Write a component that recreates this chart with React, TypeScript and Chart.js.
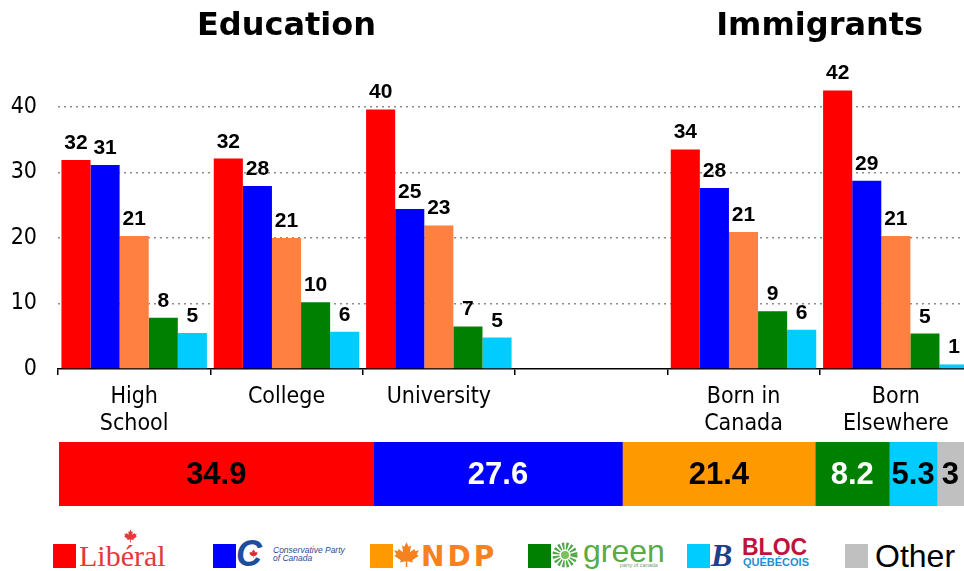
import React, { useEffect, useRef } from 'react';
import { Chart, registerables } from 'chart.js';

Chart.register(...registerables);

// ---------- data ----------
const categories: (string | string[])[] = [['High', 'School'], 'College', 'University', '', ['Born in', 'Canada'], ['Born', 'Elsewhere']];
const groupTitles = ['Education', 'Immigrants'];

const liberalValues = [31.9, 32.1, 39.6, null, 33.5, 42.5];
const conservativeValues = [31.1, 27.9, 24.4, null, 27.6, 28.7];
const ndpValues = [20.3, 20.0, 21.9, null, 20.9, 20.3];
const greenValues = [7.8, 10.2, 6.5, null, 8.8, 5.4];
const blocValues = [5.5, 5.7, 4.8, null, 6.0, 0.7];

const liberalLabels = ['32', '32', '40', '', '34', '42'];
const conservativeLabels = ['31', '28', '25', '', '28', '29'];
const ndpLabels = ['21', '21', '23', '', '21', '21'];
const greenLabels = ['8', '10', '7', '', '9', '5'];
const blocLabels = ['5', '6', '5', '', '6', '1'];

const yTickValues = [0, 10, 20, 30, 40];

const overallParties = ['Liberal', 'Conservative', 'NDP', 'Green', 'Bloc', 'Other'];
const overallValues = [34.9, 27.6, 21.4, 8.2, 5.3, 3];
const overallLabels = ['34.9', '27.6', '21.4', '8.2', '5.3', '3'];

// ---------- styles ----------
const AXIS_FONT = '"DejaVu Sans Condensed", "DejaVu Sans", sans-serif';
const ARIAL = '"Liberation Sans", Arial, sans-serif';

const barColors = ['#FF0000', '#0000FF', '#FF8040', '#008000', '#00CCFF'];
const overallColors = ['#FF0000', '#0000FF', '#FF9900', '#008000', '#00CCFF', '#C0C0C0'];
const overallTextColors = ['#000000', '#FFFFFF', '#000000', '#FFFFFF', '#000000', '#000000'];

const barLabelPlugin = {
  id: 'barLabels',
  afterDatasetsDraw(chart: any) {
    const ctx = chart.ctx;
    ctx.save();
    ctx.font = `bold 21px ${ARIAL}`;
    ctx.fillStyle = '#000';
    ctx.textAlign = 'center';
    ctx.textBaseline = 'alphabetic';
    chart.data.datasets.forEach((ds: any, i: number) => {
      const meta = chart.getDatasetMeta(i);
      meta.data.forEach((el: any, j: number) => {
        const t = ds.valueLabels[j];
        if (!t) return;
        ctx.fillText(t, el.x, el.y - 11);
      });
    });
    ctx.restore();
  },
};

const titlePlugin = {
  id: 'groupTitles',
  afterDraw(chart: any) {
    const ctx = chart.ctx;
    const x = chart.scales.x;
    ctx.save();
    ctx.font = `bold 32px "DejaVu Sans", sans-serif`;
    ctx.fillStyle = '#000';
    ctx.textAlign = 'center';
    ctx.textBaseline = 'alphabetic';
    ctx.fillText(groupTitles[0], x.getPixelForValue(1), 35);
    ctx.fillText(groupTitles[1], (x.getPixelForValue(4) + x.getPixelForValue(5)) / 2, 35);
    ctx.restore();
  },
};

const stackLabelPlugin = {
  id: 'stackLabels',
  afterDatasetsDraw(chart: any) {
    const ctx = chart.ctx;
    ctx.save();
    ctx.font = `bold 31px ${ARIAL}`;
    ctx.textAlign = 'center';
    ctx.textBaseline = 'middle';
    chart.data.datasets.forEach((ds: any, i: number) => {
      const meta = chart.getDatasetMeta(i);
      meta.data.forEach((el: any) => {
        const c = el.getCenterPoint();
        ctx.fillStyle = overallTextColors[i];
        ctx.fillText(overallLabels[i], c.x, c.y + 1);
      });
    });
    ctx.restore();
  },
};

function T(props: { x: number; base: number; size: number; style?: any; children: any }) {
  const { x, base, size, style, children } = props;
  return (
    <div
      style={{
        position: 'absolute',
        left: x,
        top: base - 0.84 * size,
        fontSize: size,
        lineHeight: 1,
        whiteSpace: 'nowrap',
        ...style,
      }}
    >
      {children}
    </div>
  );
}

function Leaf(props: { x: number; y: number; w: number; h: number; color: string }) {
  const { x, y, w, h, color } = props;
  return (
    <svg style={{ position: 'absolute', left: x, top: y }} width={w} height={h} viewBox="0 0 24 24">
      <polygon
        fill={color}
        points="12,1 14,5 16,4 15,10 19,7 20,9 23,8 21,12 23,13 17,17 18,19 12.7,18 12.7,23 11.3,23 11.3,18 6,19 7,17 1,13 3,12 1,8 4,9 5,7 9,10 8,4 10,5"
      />
    </svg>
  );
}

function Square(props: { x: number; color: string }) {
  return <div style={{ position: 'absolute', left: props.x, top: 544, width: 23, height: 24, background: props.color }} />;
}

export default function App() {
  const mainRef = useRef<HTMLCanvasElement>(null);
  const stackRef = useRef<HTMLCanvasElement>(null);

  useEffect(() => {
    const seriesValues = [liberalValues, conservativeValues, ndpValues, greenValues, blocValues];
    const seriesLabels = [liberalLabels, conservativeLabels, ndpLabels, greenLabels, blocLabels];
    const seriesNames = ['Liberal', 'Conservative', 'NDP', 'Green', 'Bloc'];

    const main = new Chart(mainRef.current!, {
      type: 'bar',
      data: {
        labels: categories as any,
        datasets: seriesValues.map((v, i) => ({
          label: seriesNames[i],
          data: v as any,
          backgroundColor: barColors[i],
          borderWidth: 0,
          barPercentage: 1,
          categoryPercentage: 0.955,
          valueLabels: seriesLabels[i],
        })) as any,
      },
      options: {
        responsive: false,
        animation: false,
        maintainAspectRatio: false,
        layout: { padding: { top: 74, right: 8, left: 0, bottom: 0 } },
        plugins: { legend: { display: false }, tooltip: { enabled: false }, title: { display: false } },
        scales: {
          x: {
            grid: { display: true, offset: true, drawOnChartArea: false, drawTicks: true, tickLength: 6, color: '#000', lineWidth: 1.5 },
            border: { display: true, color: '#000', width: 1.5 },
            ticks: { color: '#000', font: { family: AXIS_FONT, size: 23, lineHeight: 1.2 }, padding: 8, maxRotation: 0, autoSkip: false },
            afterFit: (s: any) => {
              s.height = 72;
            },
          },
          y: {
            min: 0,
            max: 45,
            afterBuildTicks: (s: any) => {
              s.ticks = yTickValues.map((v) => ({ value: v }));
            },
            grid: {
              drawTicks: false,
              lineWidth: 1.5,
              color: (c: any) => (c.tick && c.tick.value === 0 ? 'rgba(0,0,0,0)' : '#8C8C8C'),
            },
            border: { display: false, dash: [2, 4] },
            ticks: { color: '#000', font: { family: AXIS_FONT, size: 23 }, padding: 21 },
            afterFit: (s: any) => {
              s.width = 58;
            },
          },
        },
      } as any,
      plugins: [barLabelPlugin, titlePlugin],
    });

    const stack = new Chart(stackRef.current!, {
      type: 'bar',
      data: {
        labels: ['Overall'],
        datasets: overallParties.map((p, i) => ({
          label: p,
          data: [overallValues[i]],
          backgroundColor: overallColors[i],
          borderWidth: 0,
          barPercentage: 1,
          categoryPercentage: 1,
        })),
      },
      options: {
        responsive: false,
        animation: false,
        indexAxis: 'y',
        layout: { padding: { left: 59, right: 0, top: 0, bottom: 0 } },
        plugins: { legend: { display: false }, tooltip: { enabled: false } },
        scales: {
          x: { stacked: true, min: 0, max: 100.4, display: false },
          y: { stacked: true, display: false },
        },
      } as any,
      plugins: [stackLabelPlugin],
    });

    return () => {
      main.destroy();
      stack.destroy();
    };
  }, []);

  return (
    <div
      style={{
        position: 'absolute',
        left: 0,
        top: 0,
        width: 964,
        height: 571,
        overflow: 'hidden',
        background: '#fff',
        fontFamily: ARIAL,
      }}
    >
      <canvas ref={mainRef} width={980} height={441} style={{ position: 'absolute', left: 0, top: 0, width: 980, height: 441 }} />
      <canvas ref={stackRef} width={964} height={64} style={{ position: 'absolute', left: 0, top: 442, width: 964, height: 64 }} />

      {/* Legend */}
      <Square x={53} color="#FF0000" />
      <T x={79} base={566} size={30} style={{ fontFamily: '"Liberation Serif", serif', color: '#E23A3A' }}>
        Libéral
      </T>
      <Leaf x={123} y={529} w={15} h={14} color="#E23A3A" />

      <Square x={213} color="#0000FF" />
      <T x={236} base={566} size={36} style={{ fontFamily: ARIAL, fontWeight: 'bold', fontStyle: 'italic', color: '#1D4E9E' }}>
        C
      </T>
      <Leaf x={249} y={549} w={9} h={9} color="#E0262E" />
      <T x={273} base={553} size={8.5} style={{ fontStyle: 'italic', color: '#2A4C8F' }}>
        Conservative Party
      </T>
      <T x={273} base={561} size={8.5} style={{ fontStyle: 'italic', color: '#2A4C8F' }}>
        of Canada
      </T>

      <Square x={370} color="#FF9900" />
      <Leaf x={393} y={541} w={27} h={27} color="#F58220" />
      <T x={421} base={567} size={28} style={{ fontFamily: '"DejaVu Sans", sans-serif', fontWeight: 900, color: '#F58220', letterSpacing: 3 }}>
        NDP
      </T>

      <Square x={528} color="#008000" />
      <svg style={{ position: 'absolute', left: 552, top: 542 }} width={26} height={26} viewBox="0 0 26 26">
        <circle cx={13} cy={13} r={9} fill="none" stroke="#4FA845" strokeWidth={7} strokeDasharray="2 1.6" />
        <circle cx={13} cy={13} r={4} fill="#7BC25A" />
      </svg>
      <T x={583} base={562} size={32} style={{ color: '#5BAA46' }}>
        green
      </T>
      <T x={620} base={568} size={5.5} style={{ color: '#7A9C70' }}>
        party of canada
      </T>

      <Square x={687} color="#00CCFF" />
      <T x={711} base={566} size={32} style={{ fontFamily: '"Liberation Serif", serif', fontWeight: 'bold', fontStyle: 'italic', color: '#1E3F8C' }}>
        B
      </T>
      <T x={742} base={555} size={23} style={{ fontWeight: 'bold', color: '#C0123C' }}>
        BLOC
      </T>
      <T x={743} base={566} size={11} style={{ fontWeight: 'bold', color: '#1E8FCF' }}>
        QUÉBÉCOIS
      </T>

      <Square x={845} color="#C0C0C0" />
      <T x={875} base={567} size={32} style={{ color: '#000' }}>
        Other
      </T>
    </div>
  );
}
